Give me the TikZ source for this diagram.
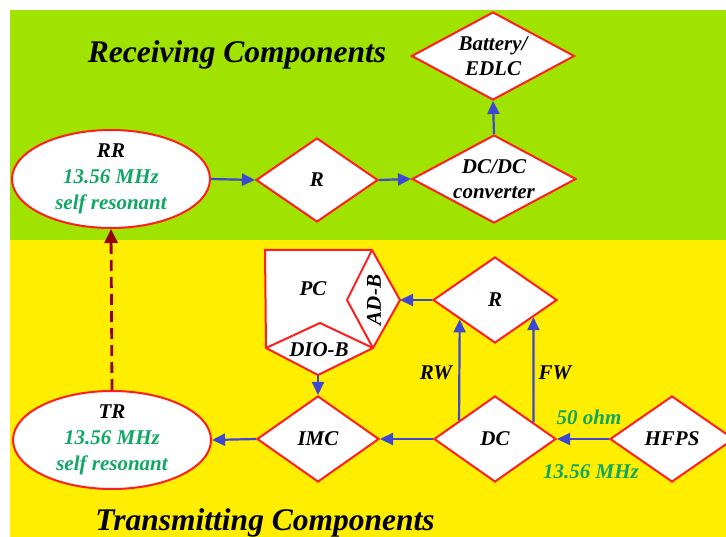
\documentclass[tikz,border=0pt]{standalone}
\usepackage{fontspec}
\setmainfont{Liberation Serif}
\usetikzlibrary{shapes.geometric,arrows.meta,calc}
\definecolor{bggreen}{RGB}{160,226,0}
\definecolor{bgyellow}{RGB}{255,238,0}
\definecolor{edgered}{RGB}{255,30,30}
\definecolor{arrblue}{RGB}{60,72,210}
\definecolor{txtgreen}{RGB}{16,166,100}
\definecolor{darkred}{RGB}{150,0,0}
\begin{document}
\begin{tikzpicture}[x=1pt,y=-1pt,
  dia/.style={diamond, draw=edgered, line width=2pt, fill=white, inner sep=0pt},
  ell/.style={ellipse, draw=edgered, line width=2pt, fill=white, inner sep=0pt,
              minimum width=198pt, minimum height=98pt},
  lbl/.style={font=\fontsize{21}{26}\selectfont\bfseries\itshape, align=center, inner sep=0pt},
  glbl/.style={lbl, text=txtgreen},
  title/.style={font=\fontsize{31.5}{36}\selectfont\bfseries\itshape, inner sep=0pt, anchor=base},
  flow/.style={draw=arrblue, line width=2.2pt, -{Triangle[length=13pt,width=12pt]}},
  wireless/.style={draw=darkred, line width=2.8pt, dash pattern=on 11pt off 6pt,
                   -{Triangle[length=14pt,width=13pt]}},
  pcline/.style={draw=edgered, line width=2pt, line join=miter}]
\useasboundingbox (0,0) rectangle (726,537);
\clip (0,0) rectangle (726,537);
\fill[white] (0,0) rectangle (726,537);
\fill[bggreen] (10,10) rectangle (726,240);
\fill[bgyellow] (10,240) rectangle (726,537);

% titles
\node[title] (rtitle) at (237,63) {Receiving Components};
\node[title] (ttitle) at (265,530) {Transmitting Components};

% receiving side
\node[ell, label={[lbl]center:{RR\\\textcolor{txtgreen}{13.56 MHz}\\\textcolor{txtgreen}{self resonant}}}] (rr) at (111,179) {};
\node[dia, minimum width=122pt, minimum height=84pt, label={[lbl]center:R}] (r1) at (317,180) {};
\node[dia, minimum width=164pt, minimum height=88pt, label={[lbl, font=\fontsize{21}{25}\selectfont\bfseries\itshape]center:{DC/DC\\converter}}] (dcdc) at (494,179) {};
\node[dia, minimum width=163pt, minimum height=88pt, label={[lbl, font=\fontsize{21}{25}\selectfont\bfseries\itshape]center:{Battery/\\EDLC}}] (batt) at (493,56) {};

% transmitting side
\node[ell, label={[lbl]center:{TR\\\textcolor{txtgreen}{13.56 MHz}\\\textcolor{txtgreen}{self resonant}}}] (tr) at (112,440) {};
\node[dia, minimum width=122pt, minimum height=86pt, label={[lbl]center:IMC}] (imc) at (318,439) {};
\node[dia, minimum width=122pt, minimum height=86pt, label={[lbl]center:DC}] (dc) at (495,439) {};
\node[dia, minimum width=124pt, minimum height=86pt, label={[lbl]center:HFPS}] (hfps) at (672,439) {};
\node[dia, minimum width=124pt, minimum height=86pt, label={[lbl]center:R}] (r2) at (495,300) {};

% PC pentagon with AD-B and DIO-B
\coordinate (pcTL) at (265,250);
\coordinate (pcTR) at (372,250);
\coordinate (pcR) at (400,300);
\coordinate (pcBR) at (373,348);
\coordinate (pcB) at (318,375);
\coordinate (pcBL) at (266,348);
\coordinate (adL) at (347,300);
\coordinate (dioT) at (320,323);
\filldraw[pcline, fill=white] (pcTL) -- (pcTR) -- (pcR) -- (pcBR) -- (pcB) -- (pcBL) -- cycle;
\draw[pcline] (pcTR) -- (adL) -- (pcBR);
\draw[pcline] (pcBL) -- (dioT) -- (pcBR);
\node[lbl] (pc) at (313,289) {PC};
\node[lbl, rotate=90] (adb) at (374,300) {AD-B};
\node[lbl] (diob) at (319,350) {DIO-B};

% connectors
\draw[flow] (rr.east) -- (r1.west);
\draw[flow] (r1.east) -- (dcdc.west);
\draw[flow] (dcdc.north) -- (batt.south);
\draw[flow] (hfps.west) -- (dc.east);
\draw[flow] (dc.west) -- (imc.east);
\draw[flow] (imc.west) -- (tr.east);
\draw[flow] (r2.west) -- (pcR);
\draw[flow] (pcB) -- (imc.north);
\draw[flow] ($(dc.west)!0.42!(dc.north)$) -- ($(r2.west)!0.44!(r2.south)$);
\draw[flow] ($(dc.north)!0.62!(dc.east)$) -- ($(r2.south)!0.61!(r2.east)$);
\draw[wireless] (tr.north) -- (rr.south);

% connector labels
\node[lbl] (rw) at (436,373) {RW};
\node[lbl] (fw) at (555,373) {FW};
\node[glbl] (ohm) at (589,417) {50 ohm};
\node[glbl] (freq) at (591,472) {13.56 MHz};
\end{tikzpicture}
\end{document}
